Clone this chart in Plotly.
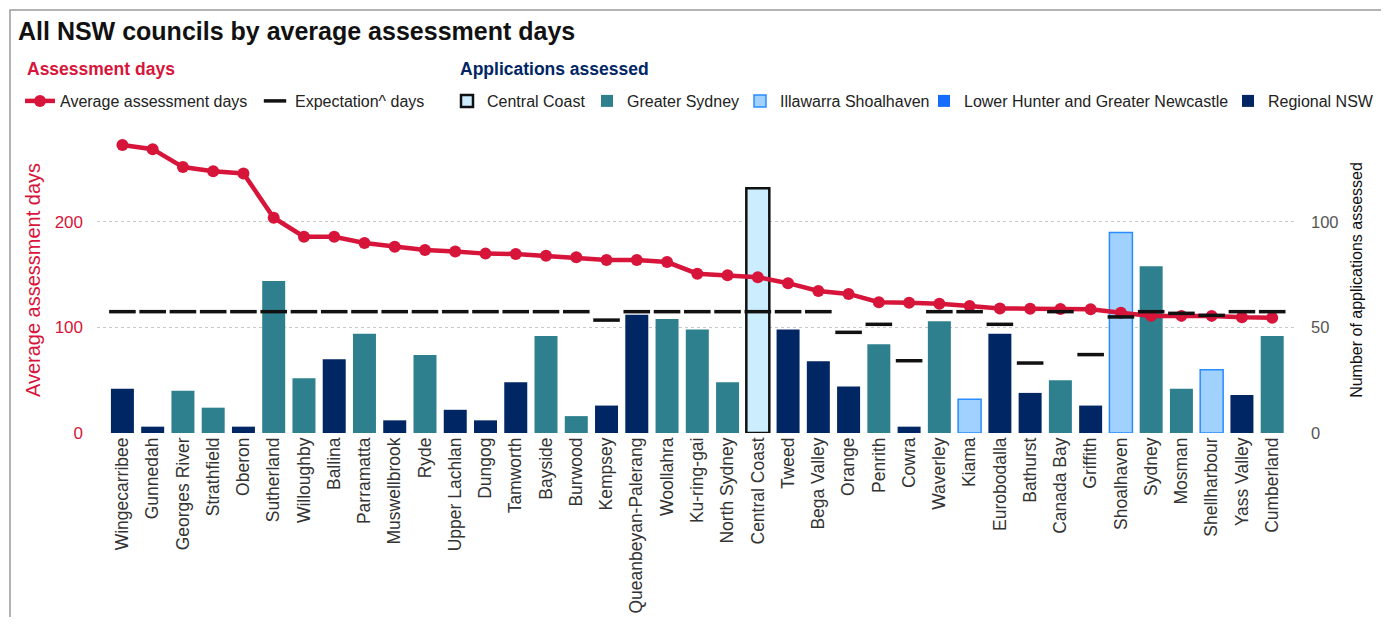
import plotly.graph_objects as go

COUNCILS = [
    "Wingecarribee", "Gunnedah", "Georges River", "Strathfield", "Oberon",
    "Sutherland", "Willoughby", "Ballina", "Parramatta", "Muswellbrook",
    "Ryde", "Upper Lachlan", "Dungog", "Tamworth", "Bayside", "Burwood",
    "Kempsey", "Queanbeyan-Palerang", "Woollahra", "Ku-ring-gai",
    "North Sydney", "Central Coast", "Tweed", "Bega Valley", "Orange",
    "Penrith", "Cowra", "Waverley", "Kiama", "Eurobodalla", "Bathurst",
    "Canada Bay", "Griffith", "Shoalhaven", "Sydney", "Mosman",
    "Shellharbour", "Yass Valley", "Cumberland",
]
REGIONS = [
    "Regional NSW", "Regional NSW", "Greater Sydney", "Greater Sydney", "Regional NSW",
    "Greater Sydney", "Greater Sydney", "Regional NSW", "Greater Sydney", "Regional NSW",
    "Greater Sydney", "Regional NSW", "Regional NSW", "Regional NSW", "Greater Sydney", "Greater Sydney",
    "Regional NSW", "Regional NSW", "Greater Sydney", "Greater Sydney",
    "Greater Sydney", "Central Coast", "Regional NSW", "Regional NSW", "Regional NSW",
    "Greater Sydney", "Regional NSW", "Greater Sydney", "Illawarra Shoalhaven", "Regional NSW", "Regional NSW",
    "Greater Sydney", "Regional NSW", "Illawarra Shoalhaven", "Greater Sydney", "Greater Sydney",
    "Illawarra Shoalhaven", "Regional NSW", "Greater Sydney",
]
AVG_DAYS = [
    273, 269, 252, 248, 246, 204, 186, 186, 180, 176.6,
    173.5, 172, 170, 169.7, 168, 166.5, 164, 164, 162, 151,
    149.5, 147.6, 142, 134.6, 131.8, 124, 123.5, 122.6, 120.4, 118,
    117.8, 117.5, 117.2, 114, 111, 111, 111, 109.7, 109.3,
]
EXPECTATION_DAYS = [
    115, 115, 115, 115, 115, 115, 115, 115, 115, 115,
    115, 115, 115, 115, 115, 115, 107, 115, 115, 115,
    115, 115, 115, 115, 95.4, 103, 68.5, 115, 115, 103,
    66.3, 115, 74.3, 110, 115, 113.4, 111.5, 115, 115,
]
APPLICATIONS = [
    21, 3, 20, 12, 3, 72, 26, 35, 47, 6,
    37, 11, 6, 24, 46, 8, 13, 56, 54, 49,
    24, 116, 49, 34, 22, 42, 3, 53, 16, 47,
    19, 25, 13, 95, 79, 21, 30, 18, 46,
]

RED = "#D7153A"
NAVY = "#002664"
REGION_STYLE = {
    "Central Coast": dict(color="#CBEDFD", line=dict(color="#111111", width=2.5)),
    "Greater Sydney": dict(color="#2E808E", line=dict(color="#2E808E", width=0)),
    "Illawarra Shoalhaven": dict(color="#A0D1FF", line=dict(color="#2A8CFF", width=1.5)),
    "Lower Hunter and Greater Newcastle": dict(color="#146CFD", line=dict(color="#146CFD", width=0)),
    "Regional NSW": dict(color=NAVY, line=dict(color=NAVY, width=0)),
}
FONT = "Liberation Sans, Arial, sans-serif"

# the page body has an 8px margin: the figure is drawn smaller so the page
# does not scroll, and every reference pixel position is shifted by OFF
OFF = 8
FIG_W, FIG_H = 1389 - OFF, 625 - 2 * OFF
# plot area in reference pixels
L, R, T, B = 97, 1297, 127, 433
W, H = R - L, B - T


def px_x(px):
    return (px - L) / W


def px_y(py):
    return (B - py) / H


# one legend per entry so each sits where the reference puts it (text start px)
LEGEND_TEXT_X = {
    "Average assessment days": 60,
    "Expectation^ days": 295,
    "Central Coast": 487,
    "Greater Sydney": 627,
    "Illawarra Shoalhaven": 780,
    "Lower Hunter and Greater Newcastle": 964,
    "Regional NSW": 1268,
}
LEGEND_IDS = {name: ("legend" if i == 0 else f"legend{i + 1}")
              for i, name in enumerate(LEGEND_TEXT_X)}

fig = go.Figure()

for region, style in REGION_STYLE.items():
    xs = [c for c, r in zip(COUNCILS, REGIONS) if r == region]
    ys = [v for v, r in zip(APPLICATIONS, REGIONS) if r == region]
    if not xs:
        xs, ys = [COUNCILS[0]], [0]
    fig.add_trace(go.Bar(
        x=xs, y=ys, name=region, legend=LEGEND_IDS[region],
        marker=style, width=0.76, yaxis="y",
    ))

fig.add_trace(go.Scatter(
    x=COUNCILS, y=AVG_DAYS, name="Average assessment days", yaxis="y2",
    mode="lines+markers", line=dict(color=RED, width=4.5),
    marker=dict(color=RED, size=12), legend=LEGEND_IDS["Average assessment days"],
))
fig.add_trace(go.Scatter(
    x=COUNCILS, y=EXPECTATION_DAYS, name="Expectation^ days", yaxis="y2",
    mode="markers", legend=LEGEND_IDS["Expectation^ days"],
    marker=dict(symbol="line-ew", size=19, line=dict(color="#111111", width=3.5)),
))

legends = {}
for name, tx in LEGEND_TEXT_X.items():
    legends[LEGEND_IDS[name]] = dict(
        orientation="h", x=px_x(tx - 40), xanchor="left",
        y=px_y(101), yanchor="middle", bgcolor="rgba(0,0,0,0)",
        font=dict(size=16, color="#222222"), itemwidth=30,
    )

fig.update_layout(
    width=FIG_W, height=FIG_H,
    font=dict(family=FONT, size=16, color="#222222"),
    plot_bgcolor="white", paper_bgcolor="white",
    margin=dict(t=T - OFF, b=FIG_H - (B - OFF), l=L - OFF, r=1389 - R,
                autoexpand=False),
    barmode="overlay",
    title=dict(
        text="<b>All NSW councils by average assessment days</b>",
        font=dict(size=25, color="#111111"), x=(18 - OFF) / FIG_W, xanchor="left",
        y=1 - (31 - OFF) / FIG_H, yanchor="middle",
    ),
    xaxis=dict(
        range=[-0.84, 38.82], tickangle=-90, showgrid=False, automargin=False,
        categoryorder="array", categoryarray=COUNCILS,
        tickfont=dict(size=17.5, color="#333333"), ticks="",
    ),
    yaxis=dict(
        side="right", range=[0, 145], dtick=50, showgrid=True, automargin=False,
        gridcolor="#C8C8C8", griddash="dot", gridwidth=1, zeroline=False,
        tickfont=dict(size=16.5, color="#555555"), ticklabelstandoff=13,
        title=dict(text="Number of applications assessed", standoff=13,
                   font=dict(size=16, color="#111111")),
    ),
    yaxis2=dict(
        side="left", overlaying="y", range=[0, 290], dtick=100, showgrid=False,
        zeroline=False, automargin=False, ticklabelstandoff=13,
        tickfont=dict(size=17, color=RED),
        title=dict(text="Average assessment days", standoff=8,
                   font=dict(size=20, color=RED)),
    ),
    showlegend=True,
    **legends,
)

fig.add_annotation(
    text="<b>Assessment days</b>", xref="paper", yref="paper",
    x=px_x(25), y=px_y(69), xanchor="left", yanchor="middle", showarrow=False,
    font=dict(size=17.5, color=RED),
)
fig.add_annotation(
    text="<b>Applications assessed</b>", xref="paper", yref="paper",
    x=px_x(458), y=px_y(69), xanchor="left", yanchor="middle", showarrow=False,
    font=dict(size=17.5, color=NAVY),
)

# outer frame of the chart card
fig.add_shape(
    type="rect", xref="paper", yref="paper",
    x0=px_x(10), x1=px_x(1382), y0=px_y(640), y1=px_y(10),
    line=dict(color="#9A9A9A", width=1.5), fillcolor="rgba(0,0,0,0)", layer="above",
)

fig.write_html("out.html")
